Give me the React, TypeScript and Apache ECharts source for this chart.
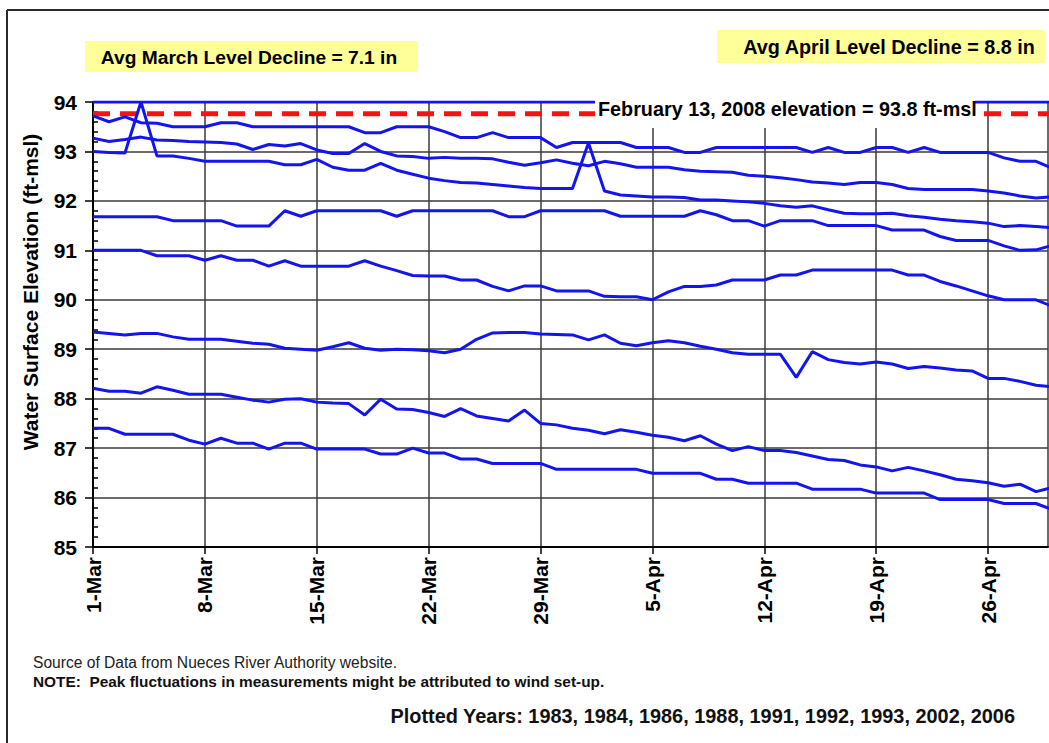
import { useEffect, useRef } from 'react';
import * as echarts from 'echarts';

// Days are indexed from 1-Mar (0) to 30-Apr (60)
const tickLabels = ['1-Mar', '8-Mar', '15-Mar', '22-Mar', '29-Mar', '5-Apr', '12-Apr', '19-Apr', '26-Apr'];

const traceA = [93.72, 93.6, 93.7, 93.58, 93.57, 93.5, 93.5, 93.5, 93.58, 93.58, 93.5, 93.5, 93.5, 93.5, 93.5, 93.5, 93.5, 93.38, 93.38, 93.5, 93.5, 93.5, 93.4, 93.28, 93.28, 93.38, 93.28, 93.28, 93.28, 93.08, 93.18, 93.18, 93.18, 93.18, 93.08, 93.08, 93.08, 92.98, 92.98, 93.08, 93.08, 93.08, 93.08, 93.08, 93.08, 92.98, 93.08, 92.98, 92.98, 93.08, 93.08, 92.98, 93.08, 92.98, 92.98, 92.98, 92.98, 92.87, 92.8, 92.8, 92.66];
const traceB = [93.27, 93.2, 93.24, 93.29, 93.23, 93.22, 93.2, 93.19, 93.18, 93.15, 93.04, 93.14, 93.11, 93.16, 93.03, 92.96, 92.96, 93.16, 93.0, 92.91, 92.9, 92.86, 92.88, 92.86, 92.86, 92.85, 92.78, 92.72, 92.77, 92.83, 92.76, 92.71, 92.8, 92.75, 92.68, 92.68, 92.68, 92.63, 92.6, 92.59, 92.58, 92.52, 92.5, 92.47, 92.43, 92.38, 92.36, 92.33, 92.37, 92.37, 92.33, 92.25, 92.23, 92.23, 92.23, 92.23, 92.2, 92.16, 92.1, 92.06, 92.08];
const traceC = [93.0, 92.98, 92.97, 94.0, 92.91, 92.91, 92.86, 92.8, 92.8, 92.8, 92.8, 92.8, 92.73, 92.73, 92.84, 92.68, 92.62, 92.62, 92.76, 92.62, 92.54, 92.46, 92.41, 92.37, 92.36, 92.33, 92.3, 92.27, 92.25, 92.25, 92.25, 93.17, 92.2, 92.12, 92.1, 92.08, 92.08, 92.07, 92.02, 92.02, 92.0, 91.98, 91.95, 91.9, 91.87, 91.9, 91.82, 91.75, 91.74, 91.74, 91.75, 91.7, 91.67, 91.63, 91.6, 91.58, 91.55, 91.48, 91.5, 91.48, 91.46];
const traceD = [91.68, 91.68, 91.68, 91.68, 91.68, 91.6, 91.6, 91.6, 91.6, 91.49, 91.49, 91.49, 91.8, 91.69, 91.8, 91.8, 91.8, 91.8, 91.8, 91.69, 91.8, 91.8, 91.8, 91.8, 91.8, 91.8, 91.68, 91.68, 91.8, 91.8, 91.8, 91.8, 91.8, 91.69, 91.69, 91.69, 91.69, 91.69, 91.8, 91.72, 91.6, 91.6, 91.49, 91.6, 91.6, 91.6, 91.5, 91.5, 91.5, 91.5, 91.41, 91.41, 91.41, 91.28, 91.2, 91.2, 91.2, 91.09, 91.0, 91.01, 91.1];
const traceE = [91.0, 91.0, 91.0, 91.0, 90.89, 90.89, 90.89, 90.8, 90.89, 90.8, 90.8, 90.68, 90.79, 90.68, 90.68, 90.68, 90.68, 90.79, 90.68, 90.59, 90.49, 90.48, 90.48, 90.4, 90.4, 90.27, 90.18, 90.28, 90.28, 90.18, 90.18, 90.18, 90.07, 90.06, 90.06, 90.0, 90.16, 90.27, 90.27, 90.3, 90.4, 90.4, 90.4, 90.5, 90.5, 90.6, 90.6, 90.6, 90.6, 90.6, 90.6, 90.5, 90.5, 90.37, 90.28, 90.18, 90.08, 90.0, 90.0, 90.0, 89.87];
const traceF = [89.35, 89.32, 89.29, 89.32, 89.32, 89.25, 89.2, 89.2, 89.2, 89.16, 89.12, 89.1, 89.02, 89.0, 88.98, 89.05, 89.13, 89.02, 88.98, 89.0, 88.99, 88.97, 88.93, 89.0, 89.2, 89.33, 89.34, 89.34, 89.31, 89.3, 89.29, 89.19, 89.29, 89.12, 89.07, 89.13, 89.17, 89.13, 89.06, 89.0, 88.93, 88.9, 88.9, 88.9, 88.43, 88.95, 88.79, 88.73, 88.7, 88.74, 88.7, 88.61, 88.65, 88.62, 88.58, 88.56, 88.41, 88.41, 88.35, 88.27, 88.24];
const traceG = [88.21, 88.15, 88.15, 88.11, 88.24, 88.17, 88.09, 88.09, 88.09, 88.03, 87.97, 87.93, 87.99, 88.0, 87.93, 87.91, 87.9, 87.67, 87.99, 87.79, 87.78, 87.72, 87.64, 87.8, 87.65, 87.6, 87.55, 87.77, 87.5, 87.47, 87.4, 87.36, 87.29, 87.37, 87.32, 87.26, 87.22, 87.15, 87.25, 87.08, 86.95, 87.03, 86.95, 86.95, 86.91, 86.84, 86.77, 86.75, 86.66, 86.62, 86.54, 86.61, 86.54, 86.46, 86.37, 86.34, 86.3, 86.23, 86.27, 86.12, 86.2];
const traceH = [87.4, 87.4, 87.28, 87.28, 87.28, 87.28, 87.16, 87.08, 87.2, 87.1, 87.1, 86.98, 87.1, 87.1, 86.98, 86.98, 86.98, 86.98, 86.88, 86.88, 87.0, 86.9, 86.9, 86.78, 86.78, 86.69, 86.69, 86.69, 86.69, 86.57, 86.57, 86.57, 86.57, 86.57, 86.57, 86.49, 86.49, 86.49, 86.49, 86.37, 86.37, 86.29, 86.29, 86.29, 86.29, 86.17, 86.17, 86.17, 86.17, 86.09, 86.09, 86.09, 86.09, 85.96, 85.96, 85.96, 85.96, 85.88, 85.88, 85.88, 85.76];
const traceI = [94, 94, 94, 94, 94, 94, 94, 94, 94, 94, 94, 94, 94, 94, 94, 94, 94, 94, 94, 94, 94, 94, 94, 94, 94, 94, 94, 94, 94, 94, 94, 94, 94, 94, 94, 94, 94, 94, 94, 94, 94, 94, 94, 94, 94, 94, 94, 94, 94, 94, 94, 94, 94, 94, 94, 94, 94, 94, 94, 94, 94];
const traces = [traceI, traceA, traceB, traceC, traceD, traceE, traceF, traceG, traceH];

const feb2008Level = 93.76;
const feb2008Span = [0, 60];

const FONT = '"Liberation Sans", Arial, sans-serif';
const BLUE = '#1414ee';

export default function App() {
  const ref = useRef<HTMLDivElement>(null);

  useEffect(() => {
    const chart = echarts.init(ref.current!, null, { renderer: 'svg' });
    const series: any[] = [
      {
        type: 'line',
        name: 'February 13, 2008 elevation',
        data: feb2008Span.map((d) => [d, feb2008Level]),
        symbol: 'none',
        lineStyle: { color: '#ff1010', width: 5, type: [17, 10] },
        z: 2,
      },
      ...traces.map((t, k) => ({
        type: 'line',
        name: 'trace' + k,
        data: t.map((v, i) => [i, v]),
        symbol: 'none',
        showSymbol: false,
        lineStyle: { color: BLUE, width: 3 },
        z: 3,
      })),
    ];

    const txt = (text: string, x: number, y: number, size: number, weight: string, align: string, color = '#000') => ({
      type: 'text',
      x,
      y,
      z: 110,
      style: {
        text,
        fontSize: size,
        fontWeight: weight,
        fontFamily: FONT,
        fill: color,
        textAlign: align,
        align,
        textVerticalAlign: 'middle',
        verticalAlign: 'middle',
      },
    });

    chart.setOption({
      animation: false,
      backgroundColor: '#fff',
      grid: { left: 93, top: 102, width: 955, height: 445, containLabel: false },
      xAxis: {
        type: 'value',
        min: 0,
        max: 59.75,
        interval: 7,
        axisLine: { show: true, lineStyle: { color: '#000', width: 2 } },
        axisTick: { show: true, length: 7, lineStyle: { color: '#000', width: 1.5 } },
        axisLabel: {
          rotate: 90,
          margin: 10,
          fontSize: 21,
          fontWeight: 'bold',
          fontFamily: FONT,
          color: '#000',
          showMaxLabel: false,
          formatter: (v: number) => (v % 7 === 0 && tickLabels[v / 7] ? tickLabels[v / 7] : ''),
        },
        splitLine: { show: true, lineStyle: { color: '#3a3a3a', width: 1.5 } },
      },
      yAxis: [
        {
          type: 'value',
          min: 85,
          max: 94,
          interval: 1,
          position: 'left',
          axisLine: { show: true, lineStyle: { color: '#000', width: 2 } },
          axisTick: { show: true, length: 8, lineStyle: { color: '#000', width: 1.5 } },
          axisLabel: { margin: 16, fontSize: 21, fontWeight: 'bold', fontFamily: FONT, color: '#000' },
          splitLine: { show: true, lineStyle: { color: '#3a3a3a', width: 1.5 } },
        },
        {
          type: 'value',
          min: 85,
          max: 94,
          interval: 1,
          position: 'left',
          axisLine: { show: false },
          axisTick: { show: false, inside: true },
          axisLabel: { show: false },
          splitLine: { show: false },
          minorTick: { show: true, splitNumber: 5, length: 5, lineStyle: { color: '#000', width: 1.5 } },
        },
      ],
      series,
      graphic: [
        { type: 'line', z: 110, shape: { x1: 7, y1: 10, x2: 7, y2: 743 }, style: { stroke: '#2a2a2a', lineWidth: 2 } },
        { type: 'line', z: 110, shape: { x1: 7, y1: 10, x2: 1049, y2: 10 }, style: { stroke: '#2a2a2a', lineWidth: 2 } },
        { type: 'rect', z: 105, shape: { x: 85, y: 41, width: 333, height: 31 }, style: { fill: '#ffff99' } },
        txt('Avg March Level Decline = 7.1 in', 249, 57, 19.2, 'bold', 'center'),
        { type: 'rect', z: 105, shape: { x: 717, y: 30, width: 328, height: 33 }, style: { fill: '#ffff99' } },
        txt('Avg April Level Decline = 8.8 in', 889, 47, 19.8, 'bold', 'center'),
        { type: 'rect', z: 105, shape: { x: 595, y: 88, width: 380, height: 40 }, style: { fill: '#ffffff' } },
        txt('February 13, 2008 elevation = 93.8 ft-msl', 598, 109, 19.8, 'bold', 'left'),
        {
          type: 'text',
          x: 30,
          y: 292,
          rotation: Math.PI / 2,
          z: 110,
          style: {
            text: 'Water Surface Elevation (ft-msl)',
            fontSize: 21,
            fontWeight: 'bold',
            fontFamily: FONT,
            fill: '#000',
            textAlign: 'center',
            align: 'center',
            textVerticalAlign: 'middle',
            verticalAlign: 'middle',
          },
        },
        txt('Source of Data from Nueces River Authority website.', 33, 662, 15.6, 'normal', 'left', '#222'),
        txt('NOTE:  Peak fluctuations in measurements might be attributed to wind set-up.', 33, 681, 15.4, 'bold', 'left', '#111'),
        txt('Plotted Years: 1983, 1984, 1986, 1988, 1991, 1992, 1993, 2002, 2006', 1015, 716, 19.9, 'bold', 'right', '#111'),
      ],
    });
    return () => chart.dispose();
  }, []);

  return (
    <div
      ref={ref}
      style={{ position: 'fixed', left: 0, top: 0, width: 1049, height: 743, background: '#fff' }}
    />
  );
}
